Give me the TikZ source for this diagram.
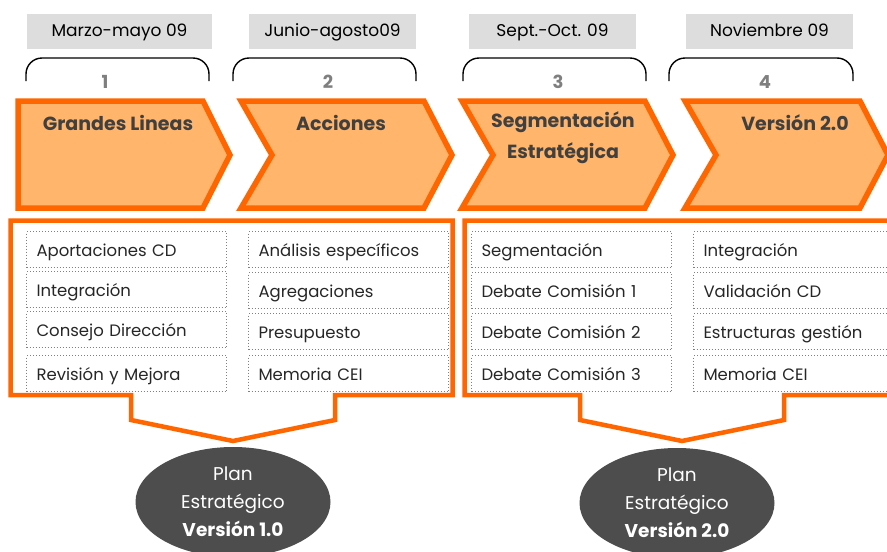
\documentclass[tikz,border=0pt]{standalone}
\usepackage{fontspec}
\setmainfont{Poppins}
\usetikzlibrary{shapes.geometric}
\definecolor{chevorange}{HTML}{FF6600}
\definecolor{chevfill}{HTML}{FFB66C}
\definecolor{datefill}{HTML}{DDDDDD}
\definecolor{ovalgray}{HTML}{4D4D4D}
\definecolor{numgray}{HTML}{7F7F7F}
\definecolor{labeltext}{HTML}{404040}
\definecolor{dotgray}{HTML}{808080}
\definecolor{itemtext}{HTML}{262626}
\begin{document}
\begin{tikzpicture}[x=1pt,y=-1pt,
    datebox/.style={fill=datefill,minimum height=35pt,inner sep=0pt,text height=12pt,
      text depth=2pt,font=\fontsize{17}{20}\selectfont},
    bracket/.style={draw=black,line width=1.4pt,rounded corners=16pt},
    stagenum/.style={text=numgray,font=\fontsize{18}{20}\selectfont\bfseries},
    chevron/.style={draw=chevorange,fill=chevfill,line width=5.5pt},
    stagelabel/.style={text=labeltext,align=center,font=\fontsize{19}{31}\selectfont\bfseries},
    frame/.style={draw=chevorange,line width=4.5pt},
    item/.style={draw=dotgray,dotted,line width=1pt,anchor=north west,text width=180pt,
      inner xsep=10pt,inner ysep=0pt,minimum height=36pt,align=left,text=itemtext,
      text height=13pt,text depth=0pt,font=\fontsize{16.5}{19}\selectfont},
    plan/.style={ellipse,fill=ovalgray,text=white,inner sep=0pt,minimum width=195pt,
      minimum height=110pt,align=center,font=\fontsize{18.5}{28}\selectfont}]
    \useasboundingbox (0,0) rectangle (887,552);

    % periods
    \foreach \x/\w/\t [count=\i] in {119.5/185/Marzo-mayo 09,332.5/167/Junio-agosto09,
        552.5/167/Sept.-Oct. 09,769.5/167/Noviembre 09} {
      \node[datebox,minimum width=\w pt] (date\i) at (\x,31.5) {\t};
    }

    % brackets and stage numbers
    \foreach \a/\b/\n/\m in {26/209/105/1,233/416/328/2,463/646/558/3,669/853/765/4} {
      \draw[bracket] (\a,81) -- (\a,58) -- (\b,58) -- (\b,81);
      \node[stagenum] (num\m) at (\n,82) {\m};
    }

    % chevrons
    \draw[chevron] (18,101) -- (203,101) -- (230,155) -- (203,208) -- (18,208) -- cycle;
    \foreach \l/\r in {241/424,462/645,685/860} {
      \draw[chevron] (\l,101) -- (\r,101) -- (\r+28,155) -- (\r,208) -- (\l,208)
        -- (\l+31,155) -- cycle;
    }
    \node[stagelabel] (lbl1) at (118,123) {Grandes Lineas};
    \node[stagelabel] (lbl2) at (341,123) {Acciones};
    \node[stagelabel] (lbl3) at (563,138) {Segmentación\\Estratégica};
    \node[stagelabel] (lbl4) at (795,123) {Versión 2.0};

    % frames with pointers
    \foreach \a/\b/\p in {10.5/452.5/233,464.5/895/682} {
      \draw[frame] (\a,220.5) -- (\b,220.5) -- (\b,395) -- (\p+102,395) -- (\p+102,420)
        -- (\p,441) -- (\p-102,420) -- (\p-102,395) -- (\a,395) -- cycle;
    }

    % tasks
    \foreach \y/\t [count=\r] in {231/Aportaciones CD,271/Integración,
        311/Consejo Dirección,355/Revisión y Mejora} {
      \node[item] (a\r) at (26,\y) {\t};
    }
    \foreach \y/\t [count=\r] in {231/Análisis específicos,272/Agregaciones,
        313/Presupuesto,355/Memoria CEI} {
      \node[item] (b\r) at (248,\y) {\t};
    }
    \foreach \y/\t [count=\r] in {231/Segmentación,272/Debate Comisión 1,
        313/Debate Comisión 2,355/Debate Comisión 3} {
      \node[item] (c\r) at (471,\y) {\t};
    }
    \foreach \y/\t [count=\r] in {231/Integración,272/Validación CD,
        313/Estructuras gestión,355/Memoria CEI} {
      \node[item] (d\r) at (693,\y) {\t};
    }

    % results
    \node[plan] (plan1) at (233,502) {Plan\\Estratégico\\\textbf{Versión 1.0}};
    \node[plan] (plan2) at (677,503) {Plan\\Estratégico\\\textbf{Versión 2.0}};
  \end{tikzpicture}
\end{document}
